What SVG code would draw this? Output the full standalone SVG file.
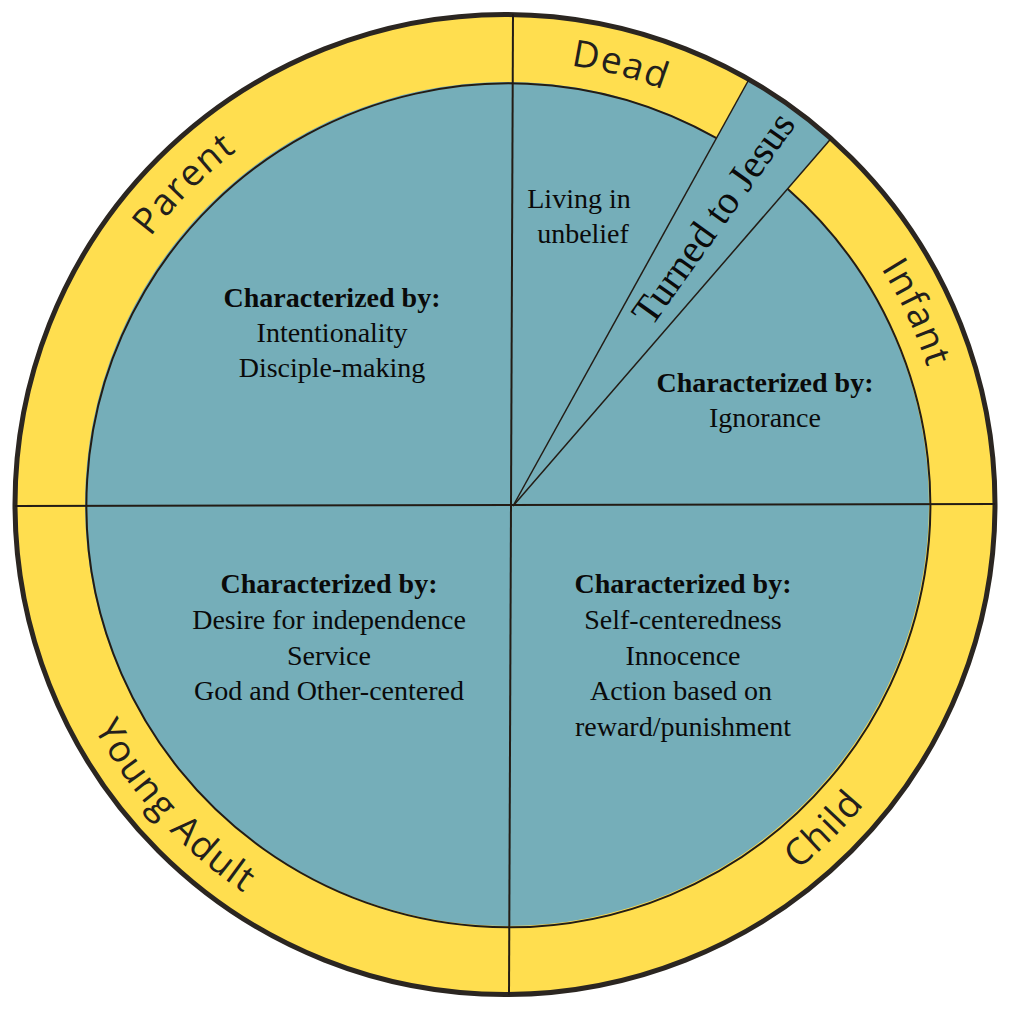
<svg xmlns="http://www.w3.org/2000/svg" width="1014" height="1014" viewBox="0 0 1014 1014">
<style>
.band{font-family:"Open Sans","Liberation Sans",sans-serif;font-size:37px;fill:#231f1d;letter-spacing:1.5px}
.q{font-family:"Liberation Serif","Times New Roman",serif;font-size:28px;fill:#0a0a0a;text-anchor:middle}
.qb{font-weight:bold}
.ln{stroke:#231c15;stroke-width:2;fill:none}
.thin{stroke:#231c15;stroke-width:1.5;fill:none}
</style>
<defs>
<path id="cw" d="M 505 948.5 A 444 444 0 1 1 505 60.5 A 444 444 0 1 1 505 948.5"/>
<path id="ccw" d="M 505 36.5 A 468 468 0 1 0 505 972.5 A 468 468 0 1 0 505 36.5"/>
</defs>
<rect width="1014" height="1014" fill="#ffffff"/>
<g id="wheel">
<circle cx="505" cy="504.5" r="490" fill="#FFDE4F"/>
<circle cx="507" cy="504" r="422" fill="#75AEB9"/>
<path d="M 513 506 L 748.9 79.5 A 490 490 0 0 1 830.9 138.7 Z" fill="#75AEB9"/>
<path class="ln" d="M 787.5 188.8 A 422 422 0 1 1 716.5 138.2"/>
<circle cx="505" cy="504.5" r="490" fill="none" stroke="#2b2621" stroke-width="5"/>
</g>
<g id="connectors">
<line class="ln" x1="513" y1="14" x2="509" y2="995"/>
<line class="ln" x1="15" y1="506" x2="995" y2="504"/>
<line class="thin" x1="513" y1="506" x2="748.9" y2="79.5"/>
<line class="thin" x1="513" y1="506" x2="830.9" y2="138.7"/>
</g>
<g id="parent">
<text class="band" text-anchor="middle"><textPath href="#cw" startOffset="37.5%">Parent</textPath></text>
<text class="q qb" x="332" y="307">Characterized by:</text>
<text class="q" x="332" y="342">Intentionality</text>
<text class="q" x="332" y="377">Disciple-making</text>
</g>
<g id="dead">
<text class="band" text-anchor="middle"><textPath href="#cw" startOffset="54.1%">Dead</textPath></text>
<text class="q" x="579" y="208">Living in</text>
<text class="q" x="583" y="243">unbelief</text>
</g>
<g id="turned">
<text x="724" y="226" transform="rotate(-54.5 724 226)" style="font-family:'Liberation Serif','Times New Roman',serif;font-size:40px;fill:#0a0a0a;text-anchor:middle">Turned to Jesus</text>
</g>
<g id="infant">
<text class="band" text-anchor="middle"><textPath href="#cw" startOffset="68.06%">Infant</textPath></text>
<text class="q qb" x="765" y="392">Characterized by:</text>
<text class="q" x="765" y="427">Ignorance</text>
</g>
<g id="child">
<text class="band" text-anchor="middle"><textPath href="#ccw" startOffset="62.36%">Child</textPath></text>
<text class="q qb" x="683" y="593">Characterized by:</text>
<text class="q" x="683" y="629">Self-centeredness</text>
<text class="q" x="683" y="665">Innocence</text>
<text class="q" x="681" y="700">Action based on</text>
<text class="q" x="683" y="736">reward/punishment</text>
</g>
<g id="young-adult">
<text class="band" text-anchor="middle"><textPath href="#ccw" startOffset="36.78%">Young Adult</textPath></text>
<text class="q qb" x="329" y="593">Characterized by:</text>
<text class="q" x="329" y="629">Desire for independence</text>
<text class="q" x="329" y="665">Service</text>
<text class="q" x="329" y="700">God and Other-centered</text>
</g>
</svg>
